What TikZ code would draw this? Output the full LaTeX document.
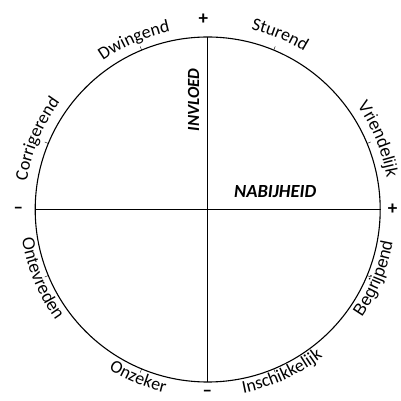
\documentclass[tikz,border=0pt]{standalone}
\usepackage{fontspec}
\setmainfont{Carlito}
\newfontfamily\arialfont{Liberation Sans}
\usetikzlibrary{decorations.text}

\newcommand{\lblfont}{\fontsize{18}{20}\selectfont}
\newcommand{\lblarial}{\arialfont\fontsize{17}{19}\selectfont}

\tikzset{
  rim/.style={line width=1.1pt},
  axisline/.style={line width=1pt},
  rimtext/.style={decorate, decoration={text along path, text align=center, text={#1}}},
  axislabel/.style={inner sep=0pt},
  sign/.style={font=\fontsize{19}{21}\selectfont\bfseries, inner sep=0pt},
}

\begin{document}
\begin{tikzpicture}[x=1pt,y=1pt]
    \useasboundingbox (-207.7,-191.5) rectangle (193.3,209.5);
    % circle
    \draw[rim] (0,0) circle (172.5);
    \coordinate (top) at (90:172.5);
    \coordinate (bottom) at (270:172.5);
    \coordinate (left) at (180:172.5);
    \coordinate (right) at (0:172.5);
    %axis
    \draw[axisline] (left) -- (right);
    \draw[axisline] (top) -- (bottom);
    \node[axislabel, rotate=90, font=\fontsize{17}{19}\selectfont\bfseries\itshape] (invloed) at (-14.2,109.5) {INVLOED};
    \node[axislabel, font=\fontsize{18.5}{20}\selectfont\bfseries\itshape] (nabijheid) at (67.5,17.5) {NABIJHEID};
    % signs
    \node[sign] (plustop) at (-4.4,190.5) {+};
    \node[sign] (plusright) at (185,0.5) {+};
    \node[sign] (minleft) at (-189.4,-0.5) {–};
    \node[sign] (minbottom) at (-0.4,-183.8) {–};
    % ticks
    \foreach \a in {22.5,67.5,...,337.5}
      \draw[thin] (\a:172.5) -- (\a:176.5);
    % labels along the rim, upper half
    \path[rimtext={|\lblfont|Corrigerend}] (197.5:183) arc[start angle=197.5, end angle=117.5, radius=183];
    \path[rimtext={|\lblfont|Dwingend}] (153.5:182) arc[start angle=153.5, end angle=73.5, radius=182];
    \path[rimtext={|\lblfont|Sturend}] (107.5:185) arc[start angle=107.5, end angle=27.5, radius=185];
    \path[rimtext={|\lblarial|Vriendelijk}] (62.5:182) arc[start angle=62.5, end angle=-17.5, radius=182];
    % lower half
    \path[rimtext={|\lblarial|Ontevreden}] (162.5:188) arc[start angle=162.5, end angle=242.5, radius=188];
    \path[rimtext={|\lblfont|Onzeker}] (207.5:188) arc[start angle=207.5, end angle=287.5, radius=188];
    \path[rimtext={|\lblfont|Inschikkelijk}] (254.5:187) arc[start angle=254.5, end angle=334.5, radius=187];
    \path[rimtext={|\lblarial|Begrijpend}] (297.5:188) arc[start angle=297.5, end angle=377.5, radius=188];
\end{tikzpicture}
\end{document}
